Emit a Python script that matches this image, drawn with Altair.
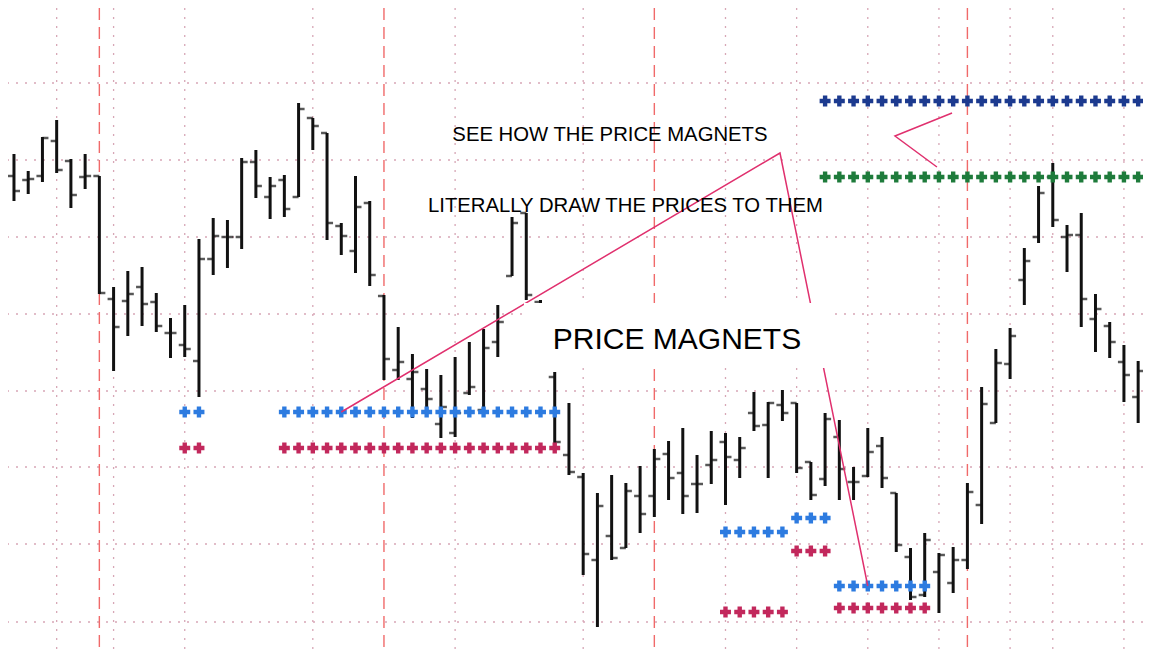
import altair as alt
import pandas as pd

# ---- OHLC bars (price units; one bar per period, index = position) ----
highs = [546, 529, 563, 580, 541, 546, 524, 413, 429, 433, 407, 382, 395, 461, 482, 480,
         542, 550, 523, 525, 597, 582, 567, 477, 524, 499, 405, 373, 346, 331, 325, 343,
         358, 371, 395, 483, 487, 400, 328, 297, 227, 207, 225, 217, 234, 251, 259, 272,
         245, 269, 267, 263, 308, 298, 310, 297, 238, 287, 280, 233, 272, 263, 207, 152,
         167, 147, 153, 217, 313, 351, 372, 452, 514, 537, 475, 487, 406, 378, 355, 339]
lows = [499, 506, 518, 527, 492, 511, 406, 329, 364, 374, 368, 342, 343, 303, 425, 432,
        451, 502, 481, 483, 503, 550, 460, 445, 427, 414, 320, 320, 282, 288, 262, 263,
        305, 290, 343, 424, 400, 360, 257, 225, 125, 73, 140, 152, 167, 183, 200, 186,
        187, 216, 195, 222, 269, 222, 279, 227, 200, 214, 200, 200, 223, 212, 148, 100,
        103, 87, 107, 131, 176, 277, 321, 395, 457, 473, 428, 373, 348, 342, 298, 277]
opens = [524, 520, 524, 559, 539, 523, 524, 401, 399, 413, 398, 367, 355, 339, 441, 463,
         463, 538, 503, 520, 503, 582, 567, 474, 449, 497, 404, 330, 321, 311, 276, 267,
         307, 290, 358, 424, 487, 398, 323, 245, 223, 140, 164, 152, 204, 204, 246, 227,
         216, 235, 258, 240, 287, 275, 295, 297, 238, 221, 263, 218, 224, 254, 207, 143,
         105, 128, 117, 140, 195, 277, 336, 420, 463, 523, 463, 465, 381, 374, 338, 303]
closes = [509, 521, 562, 530, 505, 524, 407, 373, 406, 396, 374, 367, 351, 441, 464, 463,
          538, 514, 514, 491, 591, 574, 477, 464, 493, 425, 341, 338, 328, 301, 293, 287,
          313, 352, 378, 477, 405, 370, 258, 228, 146, 194, 142, 209, 186, 241, 222, 204,
          216, 240, 243, 252, 274, 297, 287, 232, 205, 281, 231, 218, 248, 222, 155, 103,
          160, 145, 140, 208, 296, 337, 364, 439, 507, 480, 465, 401, 391, 358, 325, 329]

# ---- price magnets: colour group, price level, bars where marked ----
magnet_groups = ["blue", "crimson", "blue", "crimson", "blue", "crimson",
                 "blue", "crimson", "navy", "green"]
magnet_levels = [288, 252, 168, 88, 182, 149, 114, 92, 599, 523]
magnet_bars = [[12, 13] + list(range(19, 39)), [12, 13] + list(range(19, 39)),
               list(range(50, 55)), list(range(50, 55)),
               list(range(55, 58)), list(range(55, 58)),
               list(range(58, 65)), list(range(58, 65)),
               list(range(57, 80)), list(range(57, 80))]

# ---- grid (bar positions / price levels) ----
grid_x = [3, 7, 12, 21, 31, 40, 50, 55, 60, 65, 70, 73, 78]
red_x = [6, 26, 45, 67]
grid_y = [78, 156, 233, 309, 386, 463, 540, 617]

# ---- annotations ----
arrow_id = ["a", "a", "a", "b", "b", "b"]
arrow_t = [23, 53.83, 60, 65.92, 61.91, 64.86]
arrow_p = [288, 547, 114, 587, 564, 533]
arrow_ord = [0, 1, 2, 0, 1, 2]

text_labels = ["SEE HOW THE PRICE MAGNETS", "LITERALLY DRAW THE PRICES TO THEM", "PRICE MAGNETS"]
text_t = [41.88, 42.97, 46.59]
text_p = [565, 494, 360]
text_size = [20.3, 20.3, 30]

box_t, box_t2, box_p, box_p2 = [35.84], [57.63], [397], [332]

# ---- tables ----
bars = pd.DataFrame({"t": list(range(len(highs))), "high": highs, "low": lows,
                     "open": opens, "close": closes})
mag_rows = []
for g, lvl, bl in zip(magnet_groups, magnet_levels, magnet_bars):
    for b in bl:
        mag_rows.append({"t": b, "p": lvl, "g": g})
mags = pd.DataFrame(mag_rows)
arrows = pd.DataFrame({"id": arrow_id, "t": arrow_t, "p": arrow_p, "o": arrow_ord})
texts = pd.DataFrame({"t": text_t, "p": text_p, "label": text_labels, "s": text_size})
box = pd.DataFrame({"t": box_t, "t2": box_t2, "p": box_p, "p2": box_p2})

xs = alt.Scale(domain=[-0.42, 79.34], nice=False, zero=False)
ys = alt.Scale(domain=[47, 692], nice=False, zero=False)

gx = alt.Chart(pd.DataFrame({"t": grid_x})).mark_rule(
    color="#d7a7b6", strokeDash=[2, 7], strokeWidth=1.3
).encode(x=alt.X("t:Q", scale=xs, axis=None))
gy = alt.Chart(pd.DataFrame({"p": grid_y})).mark_rule(
    color="#d7a7b6", strokeDash=[2, 7], strokeWidth=1.3
).encode(y=alt.Y("p:Q", scale=ys, axis=None))
rx = alt.Chart(pd.DataFrame({"t": red_x})).mark_rule(
    color="#f06a6a", strokeDash=[12, 7], strokeWidth=1.4
).encode(x=alt.X("t:Q", scale=xs, axis=None))

hl = alt.Chart(bars).mark_rule(color="#111111", strokeWidth=3, clip=True).encode(
    x=alt.X("t:Q", scale=xs, axis=None),
    y=alt.Y("low:Q", scale=ys, axis=None), y2="high:Q")
op = alt.Chart(bars).mark_tick(color="#111111", orient="horizontal", size=6,
                               thickness=2.5, xOffset=-3, clip=True).encode(
    x=alt.X("t:Q", scale=xs, axis=None), y=alt.Y("open:Q", scale=ys, axis=None))
cl = alt.Chart(bars).mark_tick(color="#111111", orient="horizontal", size=6,
                               thickness=2.5, xOffset=3, clip=True).encode(
    x=alt.X("t:Q", scale=xs, axis=None), y=alt.Y("close:Q", scale=ys, axis=None))

mg = alt.Chart(mags).mark_point(shape="cross", filled=True, size=120, opacity=1,
                                clip=True).encode(
    x=alt.X("t:Q", scale=xs, axis=None), y=alt.Y("p:Q", scale=ys, axis=None),
    color=alt.Color("g:N", legend=None, scale=alt.Scale(
        domain=["blue", "crimson", "navy", "green"],
        range=["#2d7be0", "#c2285c", "#1c3a8f", "#1e7b3b"])))

ln = alt.Chart(arrows).mark_line(color="#e0306e", strokeWidth=1.5, clip=True).encode(
    x=alt.X("t:Q", scale=xs, axis=None), y=alt.Y("p:Q", scale=ys, axis=None),
    detail="id:N", order="o:Q")

bx = alt.Chart(box).mark_rect(color="white").encode(
    x=alt.X("t:Q", scale=xs, axis=None), x2="t2:Q",
    y=alt.Y("p:Q", scale=ys, axis=None), y2="p2:Q")

tx = alt.Chart(texts).mark_text(font="Liberation Sans", color="#000000",
                                align="center", baseline="middle").encode(
    x=alt.X("t:Q", scale=xs, axis=None), y=alt.Y("p:Q", scale=ys, axis=None),
    text="label:N", size=alt.Size("s:Q", scale=None, legend=None))

chart = alt.layer(gx, gy, rx, hl, op, cl, mg, ln, bx, tx).properties(
    width=1135, height=645, padding=0, autosize="none", background="white"
).configure_view(stroke=None)

chart.save("out.html", embed_options={"renderer": "svg", "actions": False})
